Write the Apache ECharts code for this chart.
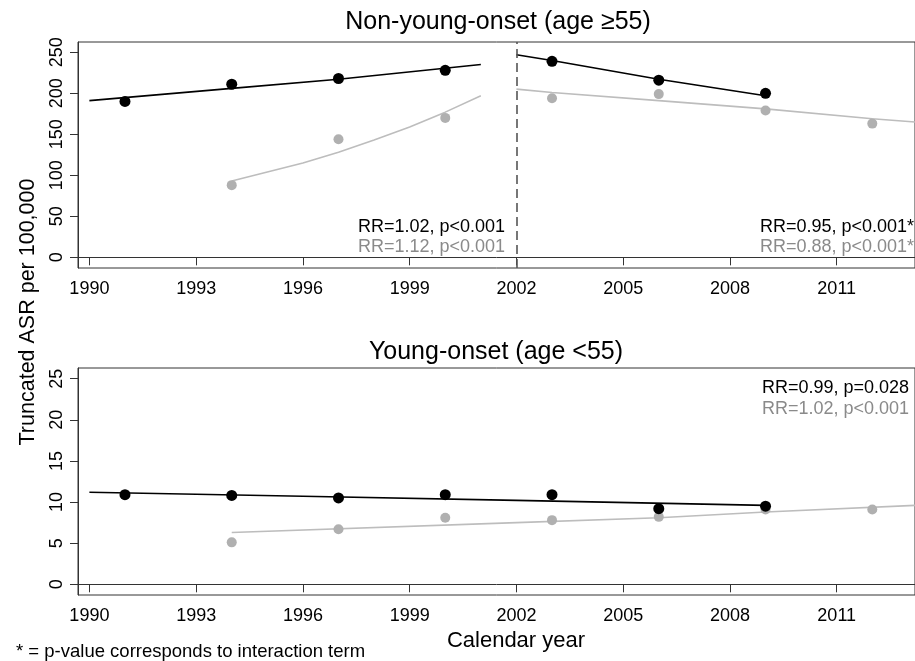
<!DOCTYPE html>
<html>
<head>
<meta charset="utf-8">
<script src="https://cdn.jsdelivr.net/npm/echarts@6/dist/echarts.min.js"></script>
<style>html,body{margin:0;padding:0;background:#fff}#c{width:915px;height:661px}</style>
</head>
<body>
<div id="c"></div>
<script>
// ---- data ----
const xTicks = [1990, 1993, 1996, 1999, 2002, 2005, 2008, 2011];
const yTicksTop = [0, 50, 100, 150, 200, 250];
const yTicksBottom = [0, 5, 10, 15, 20, 25];

// Non-young-onset (age >=55): observed rates
const topBlackYears = [1991, 1994, 1997, 2000, 2003, 2006, 2009];
const topBlackVals  = [190, 211, 218, 228, 239, 216, 200];
const topGrayYears  = [1994, 1997, 2000, 2003, 2006, 2009, 2012];
const topGrayVals   = [88, 144, 170, 194, 199, 179, 163];
// fitted lines
const topBlackFit1Years = [1990, 1994, 1997, 2001];
const topBlackFit1Vals  = [191, 206, 217, 235];
const topGrayFit1Years  = [1994, 1995, 1996, 1997, 1998, 1999, 2000, 2001];
const topGrayFit1Vals   = [93, 104, 115, 128, 143, 159, 177, 197];
const topBlackFit2Years = [2002, 2003, 2006, 2009];
const topBlackFit2Vals  = [247, 240, 217, 197];
const topGrayFit2Years  = [2002, 2003, 2006, 2009, 2012, 2013.2];
const topGrayFit2Vals   = [205, 201, 191, 181, 169, 165];

// Young-onset (age <55)
const botBlackYears = [1991, 1994, 1997, 2000, 2003, 2006, 2009];
const botBlackVals  = [10.9, 10.8, 10.5, 10.9, 10.9, 9.2, 9.5];
const botGrayYears  = [1994, 1997, 2000, 2003, 2006, 2009, 2012];
const botGrayVals   = [5.1, 6.7, 8.1, 7.8, 8.2, 9.1, 9.1];
const botBlackFitYears = [1990, 1996, 2002, 2009];
const botBlackFitVals  = [11.2, 10.7, 10.2, 9.6];
const botGrayFitYears  = [1994, 2002, 2006, 2009, 2013.2];
const botGrayFitVals   = [6.3, 7.5, 8.1, 8.8, 9.6];

const annTop1 = ['RR=1.02, p<0.001', 'RR=1.12, p<0.001'];
const annTop2 = ['RR=0.95, p<0.001*', 'RR=0.88, p<0.001*'];
const annBot  = ['RR=0.99, p=0.028', 'RR=1.02, p<0.001'];

// ---- styling ----
const FONT = "'Liberation Sans', Arial, sans-serif";
const BLACK = '#000000';
const GRAY = '#b0b0b0';
const GRAYLINE = '#bdbdbd';
const GRAYTEXT = '#8a8a8a';
const AXIS = '#333333';

function zip(xs, ys) { return xs.map((x, i) => [x, ys[i]]); }

function xAxisDef(gi) {
  return {
    type: 'value', gridIndex: gi, min: 1989.68, max: 2013.2,
    axisLine: {show: true, lineStyle: {color: AXIS, width: 1}},
    axisTick: {show: true, length: 8, lineStyle: {color: AXIS}, customValues: xTicks},
    axisLabel: {show: true, customValues: xTicks, color: '#000', fontFamily: FONT, fontSize: 18, margin: 12,
      formatter: v => String(Math.round(v))},
    splitLine: {show: false}
  };
}
function yAxisDef(gi, min, max, ticks) {
  return {
    type: 'value', gridIndex: gi, min: min, max: max,
    axisLine: {show: true, lineStyle: {color: AXIS, width: 1}},
    axisTick: {show: true, length: 8, lineStyle: {color: AXIS}, customValues: ticks},
    axisLabel: {show: true, customValues: ticks, rotate: 90, color: '#000', fontFamily: FONT, fontSize: 18, margin: 12,
      formatter: v => String(Math.round(v))},
    splitLine: {show: false}
  };
}
function lineS(gi, xs, ys, color, extra) {
  return Object.assign({
    type: 'line', xAxisIndex: gi, yAxisIndex: gi, data: zip(xs, ys), showSymbol: false, symbol: 'none',
    lineStyle: {color: color, width: 1.6}, silent: true, animation: false, z: 2
  }, extra || {});
}
function scatS(gi, xs, ys, color, size) {
  return {
    type: 'scatter', xAxisIndex: gi, yAxisIndex: gi, data: zip(xs, ys), symbol: 'circle', symbolSize: size,
    itemStyle: {color: color, opacity: 1}, silent: true, animation: false, z: 3
  };
}
function textEl(txt, x, y, color, size, align, extra) {
  return Object.assign({
    type: 'text', x: x, y: y, silent: true,
    style: {text: txt, fill: color, font: size + 'px ' + FONT, textAlign: align, textVerticalAlign: 'middle'}
  }, extra || {});
}

const chart = echarts.init(document.getElementById('c'), null, {renderer: 'canvas'});
chart.setOption({
  animation: false,
  backgroundColor: '#ffffff',
  grid: [
    {left: 78, top: 42, right: -3, height: 226, show: true, borderColor: AXIS, borderWidth: 1, backgroundColor: 'transparent', containLabel: false},
    {left: 78, top: 368, right: -3, height: 227, show: true, borderColor: AXIS, borderWidth: 1, backgroundColor: 'transparent', containLabel: false}
  ],
  xAxis: [xAxisDef(0), xAxisDef(1)],
  yAxis: [yAxisDef(0, -13, 262.5, yTicksTop), yAxisDef(1, -1.3, 26.3, yTicksBottom)],
  series: [
    lineS(0, topBlackFit1Years, topBlackFit1Vals, BLACK, {
      markLine: {silent: true, symbol: 'none', label: {show: false},
        lineStyle: {color: '#555555', type: [9, 5], width: 1.6},
        data: [{xAxis: 2002}]}
    }),
    lineS(0, topGrayFit1Years, topGrayFit1Vals, GRAYLINE),
    lineS(0, topBlackFit2Years, topBlackFit2Vals, BLACK),
    lineS(0, topGrayFit2Years, topGrayFit2Vals, GRAYLINE),
    scatS(0, topGrayYears, topGrayVals, GRAY, 10),
    scatS(0, topBlackYears, topBlackVals, BLACK, 11),
    lineS(1, botBlackFitYears, botBlackFitVals, BLACK),
    lineS(1, botGrayFitYears, botGrayFitVals, GRAYLINE),
    scatS(1, botGrayYears, botGrayVals, GRAY, 10),
    scatS(1, botBlackYears, botBlackVals, BLACK, 11)
  ],
  graphic: [
    textEl('Non-young-onset (age \u226555)', 498, 22, '#000', 25, 'center'),
    textEl('Young-onset (age <55)', 496, 352, '#000', 25, 'center'),
    textEl(annTop1[0], 505, 227, BLACK, 18, 'right'),
    textEl(annTop1[1], 505, 247, GRAYTEXT, 18, 'right'),
    textEl(annTop2[0], 914, 227, BLACK, 18, 'right'),
    textEl(annTop2[1], 914, 247, GRAYTEXT, 18, 'right'),
    textEl(annBot[0], 909, 388, BLACK, 18, 'right'),
    textEl(annBot[1], 909, 409, GRAYTEXT, 18, 'right'),
    textEl('Truncated ASR per 100,000', 28, 312, '#000', 21.5, 'center', {rotation: Math.PI / 2}),
    textEl('Calendar year', 516, 641, '#000', 22, 'center'),
    textEl('* = p-value corresponds to interaction term', 16, 652, '#000', 18.5, 'left')
  ]
});
</script>
</body>
</html>
